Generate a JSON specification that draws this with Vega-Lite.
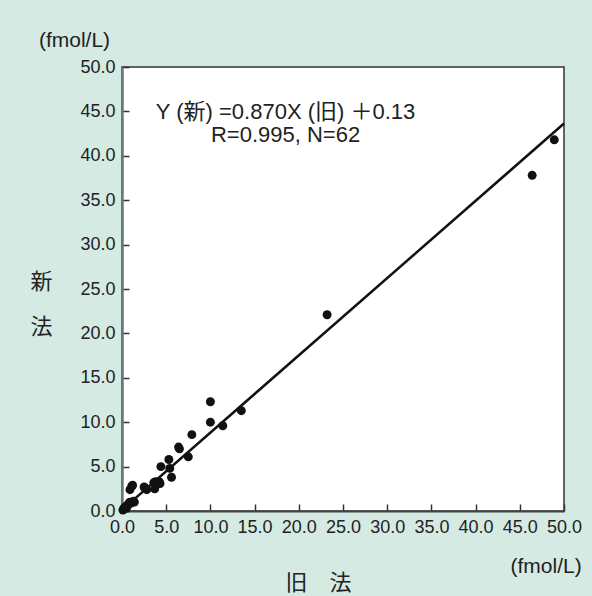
{
  "$schema": "https://vega.github.io/schema/vega-lite/v6.json",
  "width": 442,
  "height": 444,
  "autosize": {"type": "none"},
  "padding": {"left": 122, "top": 67, "right": 28, "bottom": 85},
  "background": "#d4eae2",
  "config": {
    "view": {"fill": "#ffffff", "stroke": "#333333", "strokeWidth": 1.5},
    "font": "Liberation Sans, Noto Sans CJK JP",
    "axis": {"grid": false, "labelFont": "Liberation Sans", "labelFontSize": 18, "labelColor": "#222222", "tickColor": "#333333", "tickWidth": 1.5, "titleFont": "Noto Sans CJK JP", "titleColor": "#222222", "titleFontWeight": "normal"}
  },
  "layer": [
    {
      "data": {"values": [
        {"old": 0.1, "new": 0.1}, {"old": 0.2, "new": 0.3}, {"old": 0.4, "new": 0.5}, {"old": 0.5, "new": 0.3},
        {"old": 0.6, "new": 0.6}, {"old": 0.7, "new": 0.7}, {"old": 0.8, "new": 0.9}, {"old": 0.9, "new": 1.0},
        {"old": 1.0, "new": 0.9}, {"old": 1.3, "new": 1.1}, {"old": 1.4, "new": 1.0}, {"old": 0.9, "new": 2.4},
        {"old": 1.1, "new": 2.8}, {"old": 1.2, "new": 2.9}, {"old": 2.5, "new": 2.7}, {"old": 2.8, "new": 2.4},
        {"old": 2.6, "new": 2.6}, {"old": 3.6, "new": 3.2}, {"old": 3.7, "new": 2.5}, {"old": 3.8, "new": 3.3},
        {"old": 4.2, "new": 3.3}, {"old": 4.3, "new": 3.1}, {"old": 4.4, "new": 5.0}, {"old": 5.3, "new": 5.8},
        {"old": 5.4, "new": 4.8}, {"old": 5.6, "new": 3.8}, {"old": 6.4, "new": 7.2}, {"old": 6.5, "new": 7.0},
        {"old": 7.5, "new": 6.1}, {"old": 7.9, "new": 8.6}, {"old": 10.0, "new": 12.3}, {"old": 10.0, "new": 10.0},
        {"old": 11.4, "new": 9.6}, {"old": 13.5, "new": 11.3}, {"old": 23.2, "new": 22.1}, {"old": 46.4, "new": 37.8},
        {"old": 48.9, "new": 41.8}
      ]},
      "mark": {"type": "circle", "size": 80, "color": "#111111", "opacity": 1},
      "encoding": {
        "x": {"field": "old", "type": "quantitative",
          "scale": {"domain": [0, 50], "nice": false, "zero": false},
          "axis": {"values": [0, 5, 10, 15, 20, 25, 30, 35, 40, 45, 50], "format": ".1f", "tickSize": -7, "labelPadding": 14,
            "domainColor": "#444444", "domainWidth": 2, "labelFlush": false,
            "title": "旧　法", "titleFontSize": 22, "titleX": 196, "titleY": 78, "titleBaseline": "alphabetic", "titleAnchor": "start", "titleAlign": "center"}},
        "y": {"field": "new", "type": "quantitative",
          "scale": {"domain": [0, 50], "nice": false, "zero": false},
          "axis": {"values": [0, 5, 10, 15, 20, 25, 30, 35, 40, 45, 50], "format": ".1f", "tickSize": -7, "labelPadding": 14,
            "domainColor": "#6b7b77", "domainWidth": 2.5, "labelFlush": false,
            "title": ["新", "法"], "titleFontSize": 22, "titleAngle": 0, "titleX": -81, "titleY": 204, "titleBaseline": "top", "titleAlign": "center", "titleLineHeight": 45}}
      }
    },
    {
      "data": {"values": [{"old": 0, "new": 0.13}, {"old": 50, "new": 43.63}]},
      "mark": {"type": "line", "color": "#111111", "strokeWidth": 2.5},
      "encoding": {
        "x": {"field": "old", "type": "quantitative"},
        "y": {"field": "new", "type": "quantitative"}
      }
    },
    {
      "data": {"values": [
        {"label": "Y (新) =0.870X (旧) ＋0.13", "lx": 18.5, "ly": 44.2},
        {"label": "R=0.995, N=62", "lx": 18.5, "ly": 41.5}
      ]},
      "mark": {"type": "text", "fontSize": 22, "align": "center", "baseline": "alphabetic", "color": "#222222", "clip": false},
      "encoding": {
        "x": {"field": "lx", "type": "quantitative"},
        "y": {"field": "ly", "type": "quantitative"},
        "text": {"field": "label"}
      }
    },
    {
      "data": {"values": [
        {"label": "(fmol/L)", "lx": -9.4, "ly": 52.2}
      ]},
      "mark": {"type": "text", "fontSize": 21, "align": "left", "baseline": "alphabetic", "color": "#222222", "clip": false, "font": "Liberation Sans"},
      "encoding": {
        "x": {"field": "lx", "type": "quantitative"},
        "y": {"field": "ly", "type": "quantitative"},
        "text": {"field": "label"}
      }
    },
    {
      "data": {"values": [
        {"label": "(fmol/L)", "lx": 52.0, "ly": -7.0}
      ]},
      "mark": {"type": "text", "fontSize": 21, "align": "right", "baseline": "alphabetic", "color": "#222222", "clip": false, "font": "Liberation Sans"},
      "encoding": {
        "x": {"field": "lx", "type": "quantitative"},
        "y": {"field": "ly", "type": "quantitative"},
        "text": {"field": "label"}
      }
    }
  ]
}
